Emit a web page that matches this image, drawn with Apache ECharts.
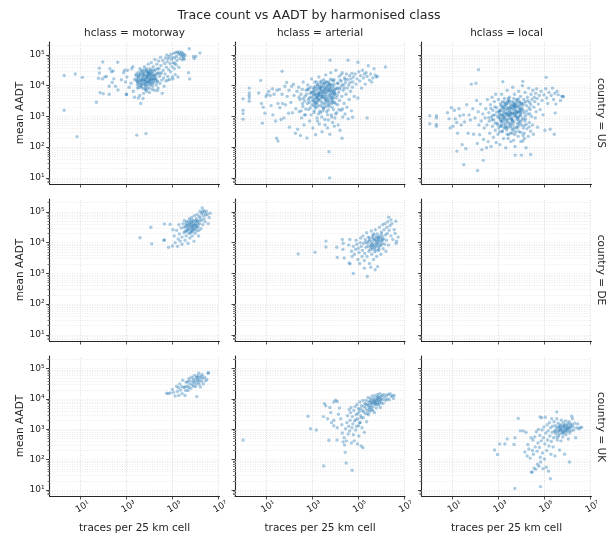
<!DOCTYPE html>
<html><head><meta charset="utf-8"><style>html,body{margin:0;background:#fff}#c{width:612px;height:535px}</style>
<script src="https://cdn.jsdelivr.net/npm/echarts@6/dist/echarts.min.js"></script></head><body><div id="c"></div><script>
const hclasses=['motorway','arterial','local'];
const countries=['US','DE','UK'];
const xTicks=[1e1,1e3,1e5,1e7];
const xTickLabels=['10¹','10³','10⁵','10⁷'];
const yTicks=[1e1,1e2,1e3,1e4,1e5];
const yTickLabels=['10¹','10²','10³','10⁴','10⁵'];
// Each list: log10(traces), log10(AADT), log10(traces), log10(AADT), ....
const us_motorway=[0.29,4.33,0.77,4.38,1.08,4.27,0.29,3.2,0.85,2.34,3.45,2.39,3.85,2.44,1.69,3.46,5.73,5.2,6.2,5.06,1.82,4.57,1.97,4.77,2.62,4.76,1.85,3.77,1.99,3.74,2.25,3.72,1.82,4.41,1.78,4.24,1.95,4.22,2.06,4.28,2.13,4.3,2.35,4.45,2.28,4.55,2.42,4.48,2.45,4.22,2.38,4.1,2.25,3.98,2.52,3.98,2.63,3.86,2.78,4.19,2.88,4.42,2.92,4.5,2.96,4.12,3.02,4.28,3.05,4.5,3.0,3.72,3.0,3.71,3.12,3.95,3.2,4.08,3.23,4.55,3.28,4.62,3.3,3.82,3.35,3.62,3.48,3.92,3.52,3.6,3.58,3.68,3.62,3.42,3.72,3.58,3.75,3.75,3.88,3.82,4.0,3.78,3.35,4.2,3.42,4.32,3.45,4.15,3.48,4.02,3.5,4.42,3.52,4.25,3.55,4.1,3.58,4.55,3.6,4.35,3.62,4.18,3.65,3.96,3.68,4.5,3.7,4.28,3.72,4.08,3.75,4.42,3.78,4.62,3.8,4.2,3.8,3.9,3.83,4.35,3.85,4.12,3.88,4.5,3.9,4.0,3.92,4.28,3.95,4.7,3.96,4.42,3.98,4.15,4.0,3.92,4.02,4.55,4.04,4.3,4.06,4.05,4.08,4.75,4.1,4.45,4.12,4.2,4.14,3.98,4.16,4.62,4.18,4.35,4.2,4.1,4.22,3.85,4.24,4.85,4.26,4.52,4.28,4.25,4.3,4.02,4.32,4.7,4.34,4.4,4.36,4.15,4.38,3.92,4.4,4.8,4.42,4.55,4.44,4.3,4.46,4.08,4.48,4.92,4.5,4.65,4.52,4.42,4.54,4.18,4.56,3.75,4.58,4.82,4.6,4.5,4.62,4.25,4.64,3.98,4.66,4.72,4.68,4.38,4.7,4.9,4.72,4.15,4.74,4.6,4.76,5.0,4.78,4.78,4.8,4.3,4.82,4.88,4.84,4.52,4.86,4.95,4.88,4.2,4.9,4.72,4.92,4.45,4.94,5.02,4.96,4.85,4.98,4.62,5.0,4.92,5.02,4.22,5.04,4.75,5.06,5.05,5.08,4.55,5.1,4.9,5.12,4.36,5.14,5.08,5.16,4.68,5.18,4.95,5.2,4.82,5.22,5.1,5.24,4.28,5.26,5.04,5.28,4.6,5.3,5.09,5.32,4.88,5.35,5.02,5.38,4.98,5.4,5.1,5.42,4.84,5.44,5.05,5.46,4.95,5.48,4.9,5.5,5.02,5.52,4.86,5.55,4.98,3.92,4.38,4.05,4.22,4.12,4.38,3.85,4.22,3.98,4.46,4.2,4.28,3.76,4.32,3.68,4.18,4.08,4.12,4.28,4.18,4.02,4.36,3.9,4.14,4.15,4.52,3.62,4.05,3.82,4.05,4.0,4.2,4.35,4.55,4.18,4.22,5.7,4.42,5.75,4.22,5.92,4.95,6.02,4.95,5.95,4.88,5.1,4.72,4.8,4.18,4.35,3.84,5.0,4.28];
const us_motorway_core=[3.45,4.22,3.92,4.08,3.71,4.41,3.58,4.0,4.11,4.31,3.66,4.24,3.87,4.55,4.03,4.14,3.54,4.33,3.79,4.03,4.21,4.47,3.63,4.47,3.94,4.24,3.49,4.09,3.74,4.16,4.07,4.41,3.83,3.97,4.25,4.22,3.57,4.17,3.97,4.33,3.69,3.92,3.86,4.27,4.13,4.06,3.42,4.37,3.77,4.52,4.01,4.02,3.64,4.12,3.91,4.44,4.29,4.36,3.52,4.29,3.81,4.13,4.09,4.24,3.73,4.35,3.96,4.11,3.6,4.39,4.17,4.16,3.88,4.31,3.67,4.02,4.05,4.5,3.76,4.21,3.99,4.39,3.55,3.93,4.23,4.33,3.84,4.46,3.47,4.15,4.39,4.42,4.33,4.12,4.47,4.38,3.82,3.87,4.12,3.88,3.9,3.9];
const us_arterial=[0,3.57,0,3.2,0,3.09,0,2.91,0.27,3.92,0.27,3.76,0.27,3.68,0.27,3.6,0.27,3.49,0.68,3.76,0.77,4.17,1.7,4.47,0.84,2.78,1.46,2.29,1.52,2.2,3.74,1.85,3.77,1,6.2,4.61,4.57,4.83,3.79,4.83,5,4.76,5.4,2.95,4.77,2.97,4.31,2.29,0.8,3.42,0.88,3.3,0.95,3.1,1.0,3.65,1.05,3.72,1.12,3.82,1.18,3.68,1.22,3.35,1.28,3.9,1.3,3.05,1.35,3.72,1.42,2.85,1.48,3.85,1.52,3.42,1.58,3.88,1.6,3.28,1.65,2.9,1.7,3.72,1.72,3.42,1.78,2.95,1.82,3.98,1.85,3.38,1.9,4.1,1.92,3.65,1.98,3.1,2.0,3.85,2.02,2.65,2.08,3.45,2.12,3.98,2.15,3.12,2.2,4.05,2.22,3.68,2.28,2.45,2.3,3.25,2.35,3.82,2.38,2.58,2.42,3.95,2.45,3.15,2.48,3.55,2.5,2.38,2.52,3.72,2.55,2.95,2.58,3.88,2.6,3.32,2.62,4.12,2.65,2.72,2.68,3.5,2.7,3.65,2.72,3.05,2.75,3.85,2.78,2.3,2.8,3.42,2.82,4.02,2.85,3.22,2.88,3.6,2.9,2.85,2.92,3.75,2.94,3.95,2.96,3.05,2.98,4.22,3.0,3.38,3.02,3.52,3.04,2.62,3.06,3.7,3.08,3.9,3.1,3.18,3.12,4.12,3.14,3.42,3.16,2.4,3.18,3.62,3.2,3.85,3.22,2.95,3.24,4.02,3.26,3.32,3.28,3.55,3.3,4.28,3.32,2.75,3.34,3.72,3.36,3.95,3.38,3.12,3.4,3.48,3.42,4.15,3.44,2.5,3.46,3.65,3.48,3.82,3.5,3.25,3.52,4.05,3.54,3.4,3.56,2.9,3.58,3.58,3.6,4.35,3.62,3.75,3.64,3.15,3.66,3.92,3.68,2.62,3.7,3.5,3.72,4.12,3.74,3.32,3.76,3.68,3.78,2.42,3.8,3.85,3.82,4.42,3.84,3.05,3.86,3.55,3.88,4.02,3.9,2.8,3.92,3.72,3.94,3.22,3.96,4.2,3.98,3.45,4.0,2.95,4.02,3.88,4.04,4.5,4.06,3.6,4.08,3.12,4.1,4.08,4.12,3.38,4.14,2.72,4.16,3.78,4.18,4.3,4.2,3.52,4.22,2.55,4.24,3.95,4.26,3.2,4.28,4.15,4.3,3.65,4.32,4.42,4.34,2.98,4.36,3.85,4.38,4.02,4.4,3.42,4.42,4.25,4.44,3.08,4.46,4.1,4.48,3.72,4.5,4.38,4.52,3.3,4.54,3.92,4.56,4.2,4.58,2.92,4.6,4.02,4.62,3.55,4.64,4.32,4.66,4.1,4.68,3.82,4.7,4.22,4.72,3.18,4.74,4.4,4.76,3.95,4.78,4.12,4.8,4.28,4.84,3.65,4.88,4.38,4.92,4.05,4.96,4.22,5.0,3.6,5.04,4.45,5.08,4.15,5.12,4.32,5.16,3.92,5.2,4.5,5.24,4.25,5.28,4.38,5.32,4.05,5.36,4.42,5.4,4.3,5.45,4.65,5.5,4.18,5.55,4.38,5.6,4.12,5.65,4.25,5.7,4.55,5.75,4.35,5.8,4.28,5.85,4.3,3.05,3.82,3.15,3.98,3.25,3.62,3.35,3.88,3.45,3.7,3.55,4.08,3.65,3.55,3.75,3.92,3.85,3.78,3.95,3.62,2.95,3.62,2.85,3.9,3.1,3.55,3.2,4.12,3.3,3.78,3.4,3.98,3.5,3.6,3.6,3.88,3.7,3.82,3.8,4.05,3.9,3.45,4.0,3.75,4.1,3.68,4.2,3.88,3.08,3.35,3.18,3.48,3.28,3.08,3.38,3.65,3.48,3.18,3.58,3.78,3.68,3.05,3.78,3.48,3.88,3.3,3.98,3.85];
const us_arterial_core=[3.31,3.71,3.67,4.01,3.13,3.44,3.52,3.83,3.89,3.61,3.23,3.91,3.61,3.47,3.04,3.63,3.42,4.07,3.78,3.74,3.17,3.27,3.56,3.94,3.94,4.14,3.29,3.53,3.71,3.21,3.46,3.77,3.83,3.92,3.11,3.81,3.37,3.36,3.63,4.13,3.99,3.71,3.21,3.66,3.53,3.28,3.76,4.03,3.41,3.91,3.07,3.49,3.86,3.42,3.27,4.03,3.59,3.64,3.93,3.94,3.34,3.17,3.68,3.83,3.16,3.72,3.47,3.43,3.81,4.21,3.24,3.47,3.57,4.11,3.91,3.52,3.38,3.78,3.73,3.58,3.02,3.76,3.49,3.97,3.84,3.68,3.19,3.58,3.62,3.33,3.96,4.03,3.32,3.95,3.69,3.41,3.43,3.62,3.79,3.98,3.14,3.31,3.54,3.71,3.88,4.18,3.26,3.75,3.64,3.97,4.03,3.41,3.36,3.56,3.75,3.38,3.09,3.93,3.51,4.19,3.87,3.84,3.22,3.39,3.58,3.52,3.97,3.77,3.39,3.84,3.72,4.08,4.08,3.92,3.28,3.68,3.45,3.31,3.82,3.61,3.13,3.72,3.55,3.88,4.14,4.08,3.35,4.12,3.66,3.66,4.22,4.18,3.92,3.81,4.31,4.02,4.45,4.2,4.12,3.92,4.27,4.36,4.41,3.92,3.74,3.86,2.84,3.54,2.76,3.72,2.62,3.58,2.93,3.28,2.73,3.24,2.59,3.42,2.89,3.46,2.67,3.05,2.53,3.18,2.96,3.79,2.44,3.62,2.82,3.87,3.09,3.12,3.24,2.85,3.43,2.98,3.57,2.72,3.71,2.88,3.86,2.98,4.03,3.08,3.97,2.68,4.17,3.22,4.33,3.24];
const us_local=[2.13,4.52,0.01,3.02,0.01,2.76,0.3,3.02,0.3,2.95,0.3,2.74,0.3,2.68,1.49,1.43,2.09,1.24,5.08,4.27,3.19,4.13,4.06,4.14,5.83,3.65,5.7,3.52,5.43,2.42,5.47,3.11,4.4,1.76,3.73,1.74,4,1.74,1.19,1.87,2.34,1.57,0.78,3.12,0.85,2.92,0.9,2.62,0.95,3.28,1.02,2.68,1.08,3.2,1.12,2.92,1.18,2.8,1.22,2.45,1.28,3.25,1.32,3.02,1.38,2.72,1.42,2.08,1.48,3.05,1.52,2.82,1.58,1.95,1.62,3.38,1.68,2.45,1.72,3.05,1.78,2.88,1.82,4.05,1.88,3.25,1.92,2.42,1.98,2.95,2.02,4.08,2.05,3.52,2.08,2.12,2.12,3.15,2.15,2.72,2.18,2.4,2.22,3.4,2.25,2.85,2.28,1.92,2.32,3.08,2.35,2.25,2.38,2.62,2.42,2.95,2.45,3.25,2.48,1.98,2.5,2.72,2.52,3.55,2.55,2.18,2.58,3.12,2.6,2.85,2.62,2.45,2.65,3.38,2.68,2.02,2.7,2.98,2.72,3.62,2.74,2.68,2.76,3.2,2.78,2.32,2.8,2.88,2.82,3.48,2.84,3.05,2.86,2.55,2.88,3.72,2.9,2.15,2.92,3.28,2.94,2.78,2.96,3.0,2.98,2.42,3.0,3.55,3.02,2.95,3.04,3.18,3.06,2.08,3.08,2.68,3.1,3.42,3.12,2.85,3.14,3.72,3.16,2.5,3.18,3.05,3.2,3.28,3.22,2.28,3.24,2.75,3.26,3.58,3.28,2.95,3.3,3.12,3.32,1.98,3.34,3.38,3.36,2.62,3.38,3.85,3.4,2.85,3.42,3.2,3.44,2.4,3.46,3.02,3.48,3.62,3.5,2.72,3.52,3.3,3.54,2.18,3.56,2.92,3.58,3.48,3.6,3.1,3.62,3.95,3.64,2.55,3.66,3.22,3.68,2.82,3.7,3.72,3.72,2.02,3.74,3.0,3.76,3.4,3.78,2.65,3.8,3.55,3.82,2.9,3.84,3.15,3.86,2.35,3.88,3.82,3.9,2.78,3.92,3.28,3.94,3.05,3.96,3.65,3.98,2.48,4.0,3.42,4.02,2.88,4.04,4.0,4.06,2.2,4.08,3.2,4.1,3.55,4.12,2.7,4.14,3.12,4.16,3.78,4.18,2.92,4.2,1.98,4.22,3.35,4.24,2.6,4.26,3.62,4.28,3.08,4.3,2.35,4.32,3.92,4.34,2.8,4.36,3.45,4.38,3.22,4.4,2.52,4.42,3.72,4.44,3.0,4.46,3.55,4.48,2.72,4.5,3.85,4.52,2.42,4.54,3.3,4.56,3.62,4.58,3.48,4.6,2.95,4.62,3.75,4.64,3.15,4.66,3.9,4.68,3.58,4.7,2.65,4.74,3.4,4.78,3.68,4.82,3.22,4.86,3.82,4.9,3.52,4.94,3.05,4.98,3.7,5.02,2.55,5.06,3.9,5.1,3.6,5.15,3.42,5.2,3.78,5.25,2.58,5.3,3.68,5.35,3.92,5.4,3.55,5.45,3.75,5.5,3.4,5.55,3.82,5.6,3.7,5.75,3.66,5.8,3.64,3.02,3.15,3.12,2.72,3.22,2.98,3.32,3.22,3.42,2.65,3.52,3.05,3.62,2.88,3.72,3.28,3.82,2.62,3.92,3.48,4.02,3.12,4.12,2.45,3.05,2.5,3.15,3.32,3.25,2.62,3.35,3.08,3.45,3.48,3.55,2.78,3.65,3.38,3.75,2.5,3.85,3.35,3.95,2.82,4.05,3.35,4.15,2.85,3.08,2.88,3.18,3.48,3.28,3.38,3.38,2.42,3.48,3.25,3.58,2.6,3.68,3.08,3.78,3.12,3.88,2.98,3.98,3.22,4.08,2.62,4.18,3.48,3.1,3.05,3.2,2.85,3.3,2.65,3.4,3.5,3.5,3.12,3.6,2.45,3.7,3.32,3.8,2.95,3.9,3.15,4.0,2.72];
const us_local_core=[3.41,3.11,3.72,3.41,3.18,2.93,3.56,3.24,3.89,2.87,3.27,3.33,3.63,2.73,3.04,3.07,3.47,3.52,3.81,3.14,3.14,2.68,3.59,2.98,3.94,3.37,3.34,2.81,3.71,3.03,3.44,3.29,3.87,3.57,3.09,3.22,3.37,2.91,3.66,3.46,3.97,3.02,3.23,3.12,3.53,2.67,3.76,3.21,3.42,3.43,3.83,2.76,3.13,2.82,3.58,3.34,3.91,3.24,3.29,3.01,3.69,2.62,3.48,2.94,3.79,3.51,3.06,2.96,3.36,3.27,3.64,3.11,3.99,3.43,3.21,3.18,3.54,3.39,3.84,2.97,3.32,2.71,3.74,3.33,3.44,3.03,3.11,3.36,3.61,2.84,3.93,3.12,3.26,3.46,3.51,3.16,3.86,3.46,3.38,3.07,3.67,3.58,3.17,3.03,3.57,2.89,3.77,3.06,3.46,2.78,4.02,3.26,3.28,2.89,3.72,3.16,3.43,3.58,3.82,3.31,3.08,3.17,3.62,3.29,3.96,3.18,3.33,3.43,3.55,3.09,3.88,2.69,3.22,3.26,3.68,3.37,4.11,3.42,4.23,3.18,4.33,3.28,4.17,3.02,4.28,3.51,4.41,3.38,4.07,2.94,4.37,3.08,2.92,3.14,2.84,3.31,2.76,3.04,2.97,2.73,2.86,2.78,2.67,3.26,2.58,2.96,2.72,2.89,3.01,2.62,3.18,2.53,3.36,2.56,3.52,2.46,3.71,2.41,3.89,2.51,4.07,2.38,4.21,2.74,4.34,2.66,3.42,2.28,3.66,2.22,3.97,2.18,4.13,2.28];
const de_motorway=[3.59,4.16,4.06,4.5,4.1,3.96,4.65,4.61,4.65,4.09,4.63,4.08,4.83,3.85,5,3.89,4.9,4.6,6.3,5.13,5.02,4.42,5.08,4.22,5.12,4.0,5.18,4.4,5.22,3.88,5.25,4.12,5.28,4.58,5.3,4.28,5.34,4.05,5.38,4.48,5.42,4.18,5.42,3.95,5.46,4.62,5.5,4.32,5.52,4.72,5.55,4.08,5.58,4.52,5.6,4.22,5.62,4.68,5.64,4.4,5.68,3.98,5.7,4.58,5.72,4.3,5.74,4.78,5.76,4.15,5.78,4.48,5.8,4.65,5.82,4.35,5.84,4.82,5.86,4.22,5.88,4.55,5.9,4.42,5.92,4.7,5.94,4.05,5.96,4.88,5.98,4.3,6.0,4.6,6.02,4.48,6.04,4.78,6.06,4.38,6.08,4.92,6.1,4.7,6.12,4.52,6.14,4.22,6.16,4.85,6.18,4.62,6.2,5.02,6.22,4.8,6.24,4.45,6.26,4.95,6.28,4.72,6.3,5.0,6.32,4.58,6.34,4.88,6.36,5.05,6.38,4.78,6.4,4.98,6.42,4.68,6.45,4.9,6.48,5.02,6.52,4.92,6.56,4.62,6.6,4.82,6.64,4.96,5.5,4.5,5.62,4.55,5.75,4.6,5.85,4.5,5.95,4.55,5.55,4.38,5.7,4.42,5.85,4.65,6.05,4.68,6.15,4.4,5.66,4.46,5.81,4.41,5.93,4.62,5.73,4.53,5.87,4.73,6.03,4.56,5.59,4.61,5.78,4.32,5.97,4.43,6.11,4.61,5.69,4.67,5.83,4.57,6.01,4.72,5.91,4.48,6.07,4.51,5.77,4.71,5.61,4.36,5.89,4.37,6.17,4.71];
const de_arterial=[2.4,3.63,3.13,3.69,3.61,4.05,3.61,3.86,4.08,3.85,4.1,3.52,4.32,4.1,4.36,3.98,4.4,3.5,4.35,3.78,4.66,3.31,4.62,3.34,4.8,3,5.41,2.9,5.28,3.17,5.56,3.2,5.75,3.12,6.34,4.83,6.44,4.74,6.65,4.7,6.75,4.18,6.69,4.05,4.6,3.92,4.65,4.1,4.72,3.72,4.75,3.55,4.8,3.88,4.85,3.62,4.9,3.78,4.92,4.08,4.95,3.95,5.0,3.45,5.02,3.82,5.05,3.68,5.08,3.32,5.1,4.0,5.12,4.15,5.15,3.88,5.18,3.55,5.2,3.75,5.22,4.22,5.25,3.98,5.28,3.42,5.3,3.65,5.32,4.1,5.35,3.85,5.38,4.32,5.4,3.55,5.42,3.98,5.45,4.18,5.48,3.72,5.5,3.32,5.52,4.08,5.55,3.88,5.58,4.38,5.6,3.62,5.62,4.02,5.64,3.78,5.66,4.25,5.68,3.45,5.7,3.95,5.72,4.12,5.74,3.7,5.76,4.42,5.78,3.88,5.8,4.05,5.82,3.55,5.84,4.28,5.86,3.22,5.88,3.98,5.9,4.15,5.92,3.78,5.94,4.5,5.96,3.9,5.98,4.08,6.0,3.62,6.02,4.35,6.04,3.98,6.06,4.2,6.08,4.58,6.1,3.8,6.12,4.12,6.14,4.42,6.16,3.95,6.18,4.62,6.2,4.25,6.22,3.72,6.24,4.08,6.26,4.5,6.28,4.3,6.3,4.68,6.33,3.92,6.36,4.4,6.4,4.55,6.44,4.22,6.48,4.62,6.52,4.1,6.58,4.42,6.62,4.3,6.66,3.98,5.35,4.02,5.5,4.15,5.6,3.92,5.7,4.28,5.8,3.98,5.9,3.85,5.45,3.88,5.65,4.12,5.85,4.15,6.05,4.05,5.57,3.96,5.73,3.83,5.87,4.09,6.01,3.92,5.63,4.19,5.79,4.19,5.93,4.22,5.47,4.05,5.77,3.76,5.91,4.03,6.07,4.11,5.67,3.89,5.83,3.92,5.53,3.78,5.97,4.16,5.75,4.08,5.61,3.84,5.89,3.74,6.03,4.28];
const de_local=[];
const uk_motorway=[4.75,4.19,4.82,4.18,4.9,4.2,5.0,4.32,5.05,4.22,5.12,4.1,5.18,4.42,5.22,4.25,5.28,4.12,5.32,4.5,5.36,4.3,5.42,4.18,5.45,4.62,5.5,4.38,5.55,4.12,5.6,4.55,5.64,4.42,5.68,4.28,5.72,4.68,5.76,4.5,5.8,4.35,5.84,4.72,5.88,4.58,5.92,4.42,5.96,4.78,6.0,4.62,6.02,4.5,6.06,4.08,6.08,4.7,6.12,4.55,6.15,4.85,6.18,4.62,6.22,4.4,6.25,4.75,6.28,4.58,6.32,4.68,6.35,4.5,6.4,4.72,6.45,4.6,6.5,4.65,6.55,4.85,6.57,4.87,6.3,4.8,6.1,4.62,5.95,4.55,5.75,4.6,5.55,4.4,6.05,4.72,6.2,4.7,5.58,4.28,5.71,4.39,5.86,4.47,6.01,4.41,6.16,4.49,5.41,4.41,5.66,4.57,5.91,4.66,6.11,4.77,5.26,4.37];
const uk_arterial=[0,2.65,2.94,3.02,3.19,2.98,2.83,3.43,3.51,1.79,4.49,1.89,4.75,1.65,4.45,2.24,3.74,2.64,4.09,2.65,3.54,3.85,4.03,3.96,5.22,2.39,3.6,3.78,3.78,3.72,3.82,3.55,3.5,3.42,3.68,3.35,3.95,3.9,4.1,3.92,4.2,3.7,4.15,3.5,3.95,3.3,4.1,3.05,3.85,3.22,3.95,3.12,4.25,3.35,4.3,3.15,4.32,2.88,4.36,2.58,4.4,2.72,4.42,2.48,4.46,3.02,4.5,2.62,4.52,3.22,4.55,3.45,4.58,2.85,4.6,3.1,4.62,3.65,4.64,2.95,4.66,3.3,4.68,3.55,4.7,3.72,4.72,2.55,4.74,3.05,4.76,3.42,4.78,3.18,4.8,2.82,4.82,3.62,4.84,2.62,4.86,3.28,4.88,3.75,4.9,2.98,4.92,3.48,4.94,3.1,4.96,3.82,4.98,2.52,5.0,3.35,5.02,3.68,5.04,2.78,5.06,3.58,5.08,3.9,5.1,3.22,5.12,3.45,5.14,2.45,5.16,3.78,5.18,3.05,5.2,3.62,5.22,3.95,5.24,3.38,5.26,3.75,5.28,2.9,5.3,3.85,5.32,3.52,5.34,3.7,5.36,3.95,5.38,3.25,5.4,3.62,5.42,3.82,5.44,4.05,5.46,3.48,5.48,3.9,5.5,3.72,5.52,3.58,5.54,4.02,5.56,3.82,5.58,3.95,5.6,3.65,5.62,4.1,5.64,3.88,5.66,3.75,5.68,4.02,5.7,3.92,5.72,3.55,5.74,4.12,5.76,3.82,5.78,3.98,5.8,3.7,5.82,4.05,5.84,3.88,5.86,4.15,5.88,3.95,5.9,3.8,5.92,4.05,5.94,3.92,5.96,4.18,5.98,3.72,6.0,4.0,6.02,3.88,6.05,4.12,6.08,3.98,6.1,3.85,6.13,4.15,6.16,4.05,6.2,3.95,6.24,4.12,6.28,4.0,6.32,4.15,6.36,3.98,6.4,4.18,6.45,4.08,6.5,4.12,6.55,4.02,6.58,4.12,5.47,3.78,5.53,3.92,5.61,3.85,5.69,3.96,5.77,3.91,5.85,4.0,5.93,3.85,6.01,4.08,5.57,3.72,5.65,3.62,5.73,3.86,5.81,3.82,5.89,4.08,5.97,3.98,5.35,3.82,5.41,3.52,5.49,3.65,5.25,3.58,5.15,3.38,5.07,3.22,4.99,3.52,4.91,3.32,5.03,3.12,5.11,3.68];
const uk_local=[3.71,1.05,4.83,1.11,2.83,2.32,2.96,2.17,3.86,3.36,6.09,1.92,5.26,1.37,4.46,1.59,5.54,3.57,6.19,3.43,4.81,3.41,6.62,3.07,3.05,2.52,3.28,2.52,3.38,2.68,3.68,2.5,3.72,2.72,4.15,2.25,3.95,2.95,4.08,2.95,4.2,2.9,4.25,2.12,4.28,2.5,4.32,2.35,4.38,2.05,4.42,2.72,4.44,1.58,4.48,2.3,4.5,2.65,4.52,2.18,4.55,1.72,4.58,2.75,4.6,2.42,4.62,1.68,4.65,2.92,4.68,2.28,4.7,1.85,4.72,2.55,4.74,3.0,4.76,1.78,4.78,2.4,4.8,2.8,4.82,2.08,4.84,1.92,4.86,2.62,4.88,3.38,4.9,2.98,4.92,2.22,4.94,1.7,4.96,2.72,4.98,3.08,5.0,2.02,5.02,2.52,5.04,3.4,5.06,2.88,5.08,1.75,5.1,2.3,5.12,3.15,5.14,2.65,5.16,2.95,5.18,1.62,5.2,2.45,5.22,3.22,5.24,2.78,5.26,3.05,5.28,2.18,5.3,2.6,5.32,3.35,5.34,2.9,5.36,3.1,5.38,2.42,5.4,2.72,5.42,3.25,5.44,2.95,5.46,2.12,5.48,3.12,5.5,2.85,5.52,3.02,5.54,3.35,5.56,2.65,5.58,2.92,5.6,3.2,5.62,2.78,5.64,3.08,5.66,2.32,5.68,2.98,5.7,3.15,5.72,2.62,5.74,3.3,5.76,2.88,5.78,3.05,5.8,2.75,5.82,3.22,5.84,2.95,5.86,3.12,5.88,2.18,5.9,3.0,5.92,3.28,5.94,2.82,5.96,3.08,5.98,2.92,6.0,3.18,6.02,3.02,6.04,2.68,6.06,3.25,6.08,3.05,6.1,2.88,6.12,3.2,6.15,3.12,6.18,2.95,6.22,3.35,6.25,3.08,6.28,2.98,6.32,3.2,6.36,2.72,6.4,3.05,6.45,3.18,6.5,3.02,6.55,3.05,5.65,2.85,5.71,3.02,5.79,2.92,5.87,3.06,5.95,2.98,6.03,3.12,5.59,3.07,5.69,3.11,5.83,2.86,5.91,3.15,5.99,3.04,5.47,2.92,5.55,2.74,5.73,2.98,5.81,3.12,5.89,2.92,6.07,2.96,6.13,3.05,6.21,3.15,5.63,2.96];
const panels=[us_motorway.concat(us_motorway_core),us_arterial.concat(us_arterial_core),us_local.concat(us_local_core),de_motorway,de_arterial,de_local,uk_motorway,uk_arterial,uk_local];
const toPoints=a=>{const r=[];for(let i=0;i<a.length;i+=2)r.push([10**a[i],10**a[i+1]]);return r;};
const lefts=[49.5,235,421.5],tops=[42,199,356],W=170,H=142;
const ink='#262626';
const minorY=[];for(let d=0;d<=5;d++)for(let k=1;k<=9;k++){const v=k*10**d;if(v>=10**0.8&&v<=10**5.42)minorY.push(v);}
const grids=[],xAxes=[],yAxes=[],series=[],titles=[],graphics=[];
const font='"DejaVu Sans"';
panels.forEach((p,i)=>{
 const r=Math.floor(i/3),c=i%3;
 grids.push({left:lefts[c],top:tops[r],width:W,height:H});
 xAxes.push({type:'log',gridIndex:i,min:10**-0.35,max:10**7.05,
  axisLine:{lineStyle:{color:ink,width:1.1}},
  axisTick:{customValues:xTicks,length:3.5,lineStyle:{color:ink,width:0.8}},
  axisLabel:r==2?{customValues:xTicks,rotate:30,align:'center',verticalAlign:'top',fontSize:9,color:ink,fontFamily:font,margin:7,hideOverlap:false,showMinLabel:true,showMaxLabel:true,
    formatter:v=>xTickLabels[xTicks.findIndex(t=>Math.abs(Math.log10(t)-Math.log10(v))<.01)]}:{show:false},
  splitLine:{show:false},minorSplitLine:{show:false},
  name:r==2?'traces per 25 km cell':'',nameLocation:'middle',nameGap:27,nameTextStyle:{fontSize:10.5,color:ink,fontFamily:font}});
 yAxes.push({type:'log',gridIndex:i,min:10**0.8,max:10**5.42,
  axisLine:{show:true,lineStyle:{color:ink,width:1.1}},
  axisTick:{customValues:minorY,length:2,lineStyle:{color:ink,width:0.6}},
  axisLabel:{show:false},splitLine:{show:false},minorSplitLine:{show:false},
  name:c==0?'mean AADT':'',nameLocation:'middle',nameGap:24,nameRotate:90,nameTextStyle:{fontSize:10.5,color:ink,fontFamily:font}});
 yAxes.push({type:'log',gridIndex:i,min:10**0.8,max:10**5.42,position:'left',
  axisLine:{show:false},
  axisTick:{customValues:yTicks,length:3.5,lineStyle:{color:ink,width:0.8}},
  axisLabel:c==0?{customValues:yTicks,fontSize:9,color:ink,fontFamily:font,margin:5,hideOverlap:false,
    formatter:v=>yTickLabels[yTicks.findIndex(t=>Math.abs(Math.log10(t)-Math.log10(v))<.01)]}:{show:false},
  splitLine:{show:false}});
 series.push({type:'scatter',xAxisIndex:i,yAxisIndex:2*i,data:toPoints(p),symbolSize:3.4,silent:true,z:3,
  itemStyle:{color:'#1f77b4',opacity:0.38},
  markLine:{silent:true,symbol:'none',label:{show:false},animation:false,z:1,
   lineStyle:{type:[1,1.5],color:'#dedede',width:0.6},
   data:[...minorY.map(v=>({yAxis:v})),...xTicks.map(v=>({xAxis:v,lineStyle:{type:[1,1.5],color:'#d4d4d4',width:0.8}}))]}});
});
hclasses.forEach((h,c)=>titles.push({text:'hclass = '+h,left:lefts[c]+W/2,top:27.5,padding:0,textAlign:'center',textStyle:{fontSize:10.5,fontWeight:'normal',color:ink,fontFamily:font}}));
titles.push({text:'Trace count vs AADT by harmonised class',left:309,top:9.5,padding:0,textAlign:'center',textStyle:{fontSize:12.6,fontWeight:'normal',color:ink,fontFamily:font}});
countries.forEach((k,r)=>graphics.push({type:'text',x:600.5,y:tops[r]+H/2,rotation:-Math.PI/2,style:{text:'country = '+k,align:'center',verticalAlign:'middle',fontSize:10.5,fill:ink,fontFamily:font}}));
const ch=echarts.init(document.getElementById('c'),null,{renderer:'canvas'});
ch.setOption({animation:false,backgroundColor:'#fff',title:titles,grid:grids,xAxis:xAxes,yAxis:yAxes,series,graphic:graphics});
</script></body></html>
